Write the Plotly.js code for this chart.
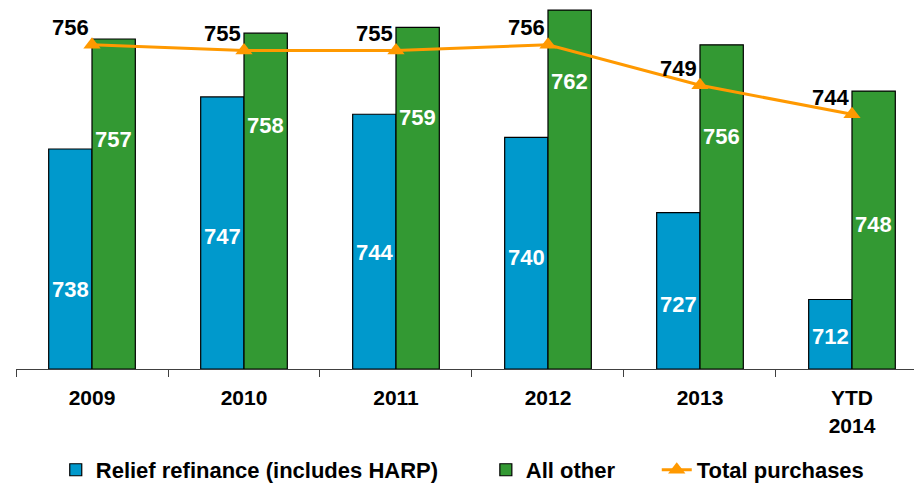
<!DOCTYPE html>
<html lang="en">
<head>
    <meta charset="UTF-8">
    <title>Credit scores</title>
    <script src="https://cdn.plot.ly/plotly-3.0.1.min.js"></script>
    <style>
        body {
            margin: 0;
            padding: 0;
            background-color: #ffffff;
        }

        #grafico {
            width: 914px;
            height: 484px;
        }
    </style>
</head>
<body>
    <div id="grafico"></div>

    <script>
        // Data
        var categories = ['2009', '2010', '2011', '2012', '2013', 'YTD<br>2014'];
        var reliefValues = [738, 747, 744, 740, 727, 712];
        var otherValues = [757, 758, 759, 762, 756, 748];
        var totalValues = [756, 755, 755, 756, 749, 744];

        // Where the white labels sit inside the bars (y in axis units)
        var reliefLabelY = [713.8, 722.8, 720.2, 719.2, 711.1, 705.7];
        var otherLabelY = [739.7, 742.0, 743.5, 749.7, 740.1, 725.0];

        var blue = '#0099CC';
        var green = '#339933';
        var orange = '#FF9900';
        var fontFamily = '"Liberation Sans", Arial, sans-serif';
        var halfBar = 0.1425; // half a bar, in category units
        var pad = function (n) { return new Array(n + 1).join('\u00a0'); };

        // Bars start at 700, the bottom of the value axis
        var traceRelief = {
            x: categories,
            y: reliefValues.map(function (v) { return v - 700; }),
            base: 700,
            type: 'bar',
            name: 'Relief refinance (includes HARP)' + pad(7),
            marker: { color: blue, line: { color: '#000000', width: 1.2 } },
            hoverinfo: 'skip'
        };

        var traceOther = {
            x: categories,
            y: otherValues.map(function (v) { return v - 700; }),
            base: 700,
            type: 'bar',
            name: 'All other' + pad(6),
            marker: { color: green, line: { color: '#000000', width: 1.2 } },
            hoverinfo: 'skip'
        };

        var traceTotal = {
            x: categories,
            y: totalValues,
            type: 'scatter',
            mode: 'lines+markers',
            name: 'Total purchases',
            line: { color: orange, width: 3 },
            marker: { symbol: 'triangle-up', size: 15, color: orange },
            hoverinfo: 'skip'
        };

        var annotations = [];
        for (var i = 0; i < categories.length; i++) {
            annotations.push({
                x: i - halfBar, y: reliefLabelY[i], xref: 'x', yref: 'y',
                text: String(reliefValues[i]), showarrow: false,
                font: { family: fontFamily, size: 22, color: '#ffffff', weight: 'bold' }
            });
            annotations.push({
                x: i + halfBar, y: otherLabelY[i], xref: 'x', yref: 'y',
                text: String(otherValues[i]), showarrow: false,
                font: { family: fontFamily, size: 22, color: '#ffffff', weight: 'bold' }
            });
            annotations.push({
                x: i, y: totalValues[i], xref: 'x', yref: 'y',
                text: String(totalValues[i]), showarrow: false,
                xanchor: 'right', yanchor: 'middle', xshift: -1, yshift: 17,
                font: { family: fontFamily, size: 22, color: '#000000', weight: 'bold' }
            });
        }

        var layout = {
            width: 914,
            height: 484,
            margin: { l: 16, r: 0, t: 5, b: 115 },
            paper_bgcolor: '#ffffff',
            plot_bgcolor: '#ffffff',
            font: { family: fontFamily, color: '#000000' },
            barmode: 'group',
            bargap: 0.43,
            bargroupgap: 0,
            showlegend: true,
            legend: {
                orientation: 'h',
                xref: 'container', yref: 'container',
                x: 0.061, xanchor: 'left',
                y: 0.029, yanchor: 'middle',
                font: { family: fontFamily, size: 22, color: '#000000', weight: 'bold' },
                traceorder: 'normal'
            },
            xaxis: {
                type: 'category',
                range: [-0.5, 5.408],
                automargin: false,
                showline: true,
                linecolor: '#404040',
                linewidth: 1,
                ticks: 'outside',
                tickson: 'boundaries',
                ticklen: 7,
                tickcolor: '#404040',
                ticklabelstandoff: 10,
                showgrid: false,
                zeroline: false,
                tickfont: { family: fontFamily, size: 21, color: '#000000', weight: 'bold' }
            },
            yaxis: {
                range: [700, 762.87],
                visible: false,
                automargin: false,
                showgrid: false,
                zeroline: false
            },
            annotations: annotations
        };

        Plotly.newPlot('grafico', [traceRelief, traceOther, traceTotal], layout, { staticPlot: true });
    </script>
</body>
</html>
